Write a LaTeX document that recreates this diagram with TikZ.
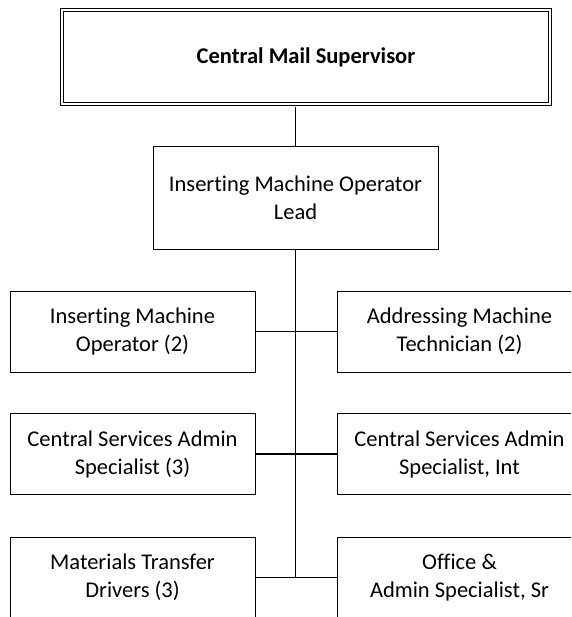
\documentclass[tikz,border=0pt]{standalone}
\usepackage{fontspec}
\setmainfont[Ligatures={NoCommon}]{Carlito}
\begin{document}
\begin{tikzpicture}[x=1pt,y=-1pt,
  box/.style={draw, line width=1pt, minimum width=245pt, minimum height=81pt, align=center, inner sep=0pt, font=\fontsize{22.5}{28}\selectfont},
  topbox/.style={draw, line width=1pt, double, double distance=2.5pt, minimum width=488pt, minimum height=94pt, inner sep=0pt, align=center, font=\fontsize{22.5}{28}\selectfont\bfseries},
  leadbox/.style={box, minimum width=285pt, minimum height=102pt},
  conn/.style={line width=1.2pt}]
\useasboundingbox (0,0) rectangle (571,617);
\clip (0,0) rectangle (571,617);
\node[topbox] (top) at (306,57) {Central Mail Supervisor};
\node[leadbox] (lead) at (295.5,198) {Inserting Machine Operator\\Lead};
\node[box] (l1) at (132.5,331.5) {Inserting Machine\\Operator (2)};
\node[box] (r1) at (459.5,331.5) {Addressing Machine\\Technician (2)};
\node[box] (l2) at (132.5,454) {Central Services Admin\\Specialist (3)};
\node[box] (r2) at (459.5,454) {Central Services Admin\\Specialist, Int};
\node[box] (l3) at (132.5,577.5) {Materials Transfer\\Drivers (3)};
\node[box] (r3) at (459.5,577.5) {Office \&\\Admin Specialist, Sr};
\draw[conn, shorten <=2.5pt] (top.south -| lead.north) -- (lead.north);
\draw[conn] (lead.south) -- (lead.south |- l3.east);
\draw[conn] (l1.east) -- (r1.west);
\draw[conn] (l2.east) -- (r2.west);
\draw[conn] (l3.east) -- (r3.west);
\end{tikzpicture}
\end{document}
